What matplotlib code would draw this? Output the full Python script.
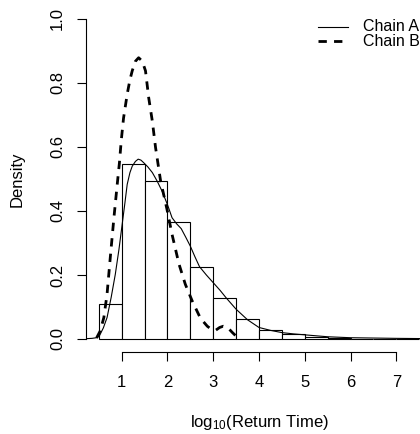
import numpy as np
import matplotlib
matplotlib.use("Agg")
import matplotlib.pyplot as plt

plt.rcParams['font.family'] = ['Liberation Sans', 'DejaVu Sans']
plt.rcParams['font.size'] = 12
plt.rcParams['mathtext.fontset'] = 'custom'
plt.rcParams['mathtext.rm'] = 'Liberation Sans'
plt.rcParams['mathtext.default'] = 'regular'

# histogram of log10 return times (density scale), bins of width 0.5
bin_left = [0.5, 1.0, 1.5, 2.0, 2.5, 3.0, 3.5, 4.0, 4.5, 5.0, 5.5, 6.0, 6.5, 7.0]
bin_density = [0.108, 0.546, 0.494, 0.367, 0.226, 0.127, 0.0615, 0.028,
               0.0146, 0.006, 0.002, 0.001, 0.0005, 0.0005]
bin_width = 0.5

# kernel density estimate, chain A
chain_a_x = [0.22, 0.35, 0.45, 0.51, 0.6, 0.68, 0.77, 0.86, 0.94, 1.01,
             1.07, 1.12, 1.18, 1.23, 1.3, 1.36, 1.42, 1.48, 1.57, 1.67,
             1.78, 1.88, 2.0, 2.1, 2.2, 2.3, 2.4, 2.5, 2.6, 2.7, 2.85,
             3.0, 3.15, 3.28, 3.5, 3.75, 4.0, 4.25, 4.5, 4.75, 5.0, 5.5,
             6.0, 6.5, 7.0, 7.8]
chain_a_y = [0.001, 0.002, 0.004, 0.009, 0.035, 0.067, 0.13, 0.202, 0.28,
             0.358, 0.425, 0.483, 0.52, 0.54, 0.555, 0.562, 0.559, 0.551,
             0.538, 0.52, 0.492, 0.4625, 0.42, 0.379, 0.36, 0.345, 0.318,
             0.29, 0.257, 0.226, 0.2, 0.176, 0.152, 0.129, 0.093, 0.06,
             0.036, 0.027, 0.02, 0.016, 0.013, 0.007, 0.004, 0.003, 0.002,
             0.001]

# kernel density estimate, chain B
chain_b_x = [0.45, 0.53, 0.61, 0.68, 0.75, 0.83, 0.9, 0.95, 0.99, 1.04,
             1.12, 1.18, 1.23, 1.3, 1.37, 1.45, 1.52, 1.59, 1.67, 1.74,
             1.85, 1.99, 2.1, 2.25, 2.39, 2.54, 2.72, 2.87, 2.97, 3.06,
             3.14, 3.22, 3.32, 3.42, 3.5, 3.58]
chain_b_y = [0.003, 0.025, 0.067, 0.14, 0.254, 0.379, 0.48, 0.55, 0.62,
             0.69, 0.765, 0.81, 0.838, 0.868, 0.879, 0.868, 0.838, 0.754,
             0.68, 0.598, 0.494, 0.405, 0.327, 0.235, 0.171, 0.119, 0.065,
             0.04, 0.029, 0.028, 0.036, 0.04, 0.035, 0.02, 0.009, 0.002]

legend_labels = ['Chain A', 'Chain B']

x_ticks = [1, 2, 3, 4, 5, 6, 7]
y_ticks = [0.0, 0.2, 0.4, 0.6, 0.8, 1.0]

fig = plt.figure(figsize=(4.2, 4.34), dpi=100)
ax = fig.add_axes([86 / 420, (434 - 351.8) / 434, 346 / 420, 345.6 / 434])

ax.bar(bin_left, bin_density, width=bin_width, align='edge',
       facecolor='white', edgecolor='black', linewidth=0.8, zorder=1)
ax.plot(chain_a_x, chain_a_y, color='black', lw=0.8, zorder=2)
ax.plot(chain_b_x, chain_b_y, color='black', lw=2.0,
        ls=(0, (3.0, 2.6)), zorder=2)

ax.set_xlim(0.22, 7.78)
ax.set_ylim(-0.04, 1.04)

for side in ('top', 'right'):
    ax.spines[side].set_visible(False)
ax.spines['left'].set_bounds(0, 1)
ax.spines['bottom'].set_bounds(1, 7)
for side in ('left', 'bottom'):
    ax.spines[side].set_linewidth(0.8)

ax.set_xticks(x_ticks)
ax.set_xticklabels([str(t) for t in x_ticks])
ax.set_yticks(y_ticks)
ax.set_yticklabels([f"{t:.1f}" for t in y_ticks], rotation=90, va='center')
ax.tick_params(axis='both', direction='out', length=6.5, width=0.8)
ax.tick_params(axis='x', pad=10.5)
ax.tick_params(axis='y', pad=8.5)

ax.set_xlabel(r'log$_{10}$(Return Time)')
ax.xaxis.set_label_coords(0.503, -0.206)
ax.xaxis.label.set_va('center')
ax.set_ylabel('Density')
ax.yaxis.set_label_coords(-0.199, 0.5)
ax.yaxis.label.set_va('center')

# legend drawn by hand, no box, tight rows
leg_rows = [0.940, 0.899]
leg_styles = [dict(lw=0.8, ls='-'), dict(lw=2.0, ls=(0, (3.0, 2.6)))]
for label, yrow, style in zip(legend_labels, leg_rows, leg_styles):
    ax.plot([0.6705, 0.757], [yrow, yrow], transform=ax.transAxes,
            color='black', clip_on=False, **style)
    ax.text(0.8006, yrow, label, transform=ax.transAxes,
            ha='left', va='center', fontsize=11.5)

fig.savefig('out.png', dpi=100)
